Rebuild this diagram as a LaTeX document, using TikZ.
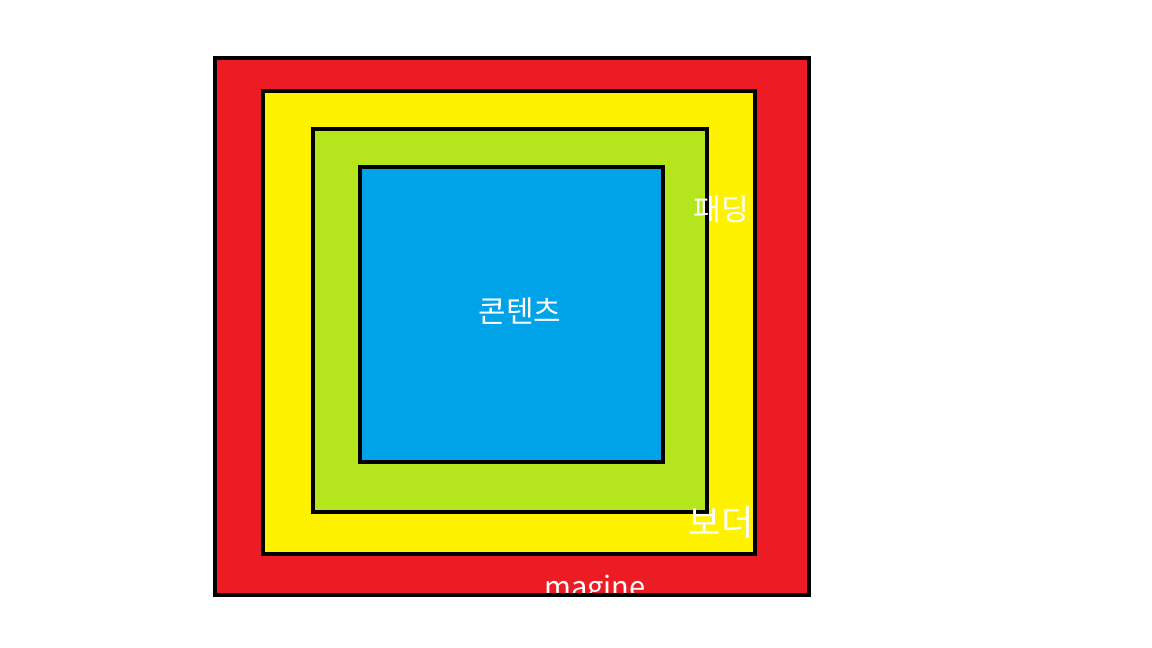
\documentclass[tikz,border=0pt]{standalone}
\usepackage{fontspec}
\setmainfont{Noto Sans CJK KR}
\definecolor{boxMargin}{RGB}{237,28,36}
\definecolor{boxBorder}{RGB}{255,242,0}
\definecolor{boxPadding}{RGB}{181,230,29}
\definecolor{boxContent}{RGB}{0,162,232}

\begin{document}
\begin{tikzpicture}[
  x=1pt, y=-1pt,
  every node/.style={align=center, text=white, inner sep=0pt},
  edge/.style={draw=black, line width=4pt},
  label/.style={font=\fontsize{30}{33}\selectfont},
  biglabel/.style={font=\fontsize{35}{38}\selectfont}
]
\useasboundingbox (0,0) rectangle (1152,648);

% - layers, outside in -
\fill[boxMargin] (213,56) rectangle (811,597);
\draw[edge, fill=boxBorder] (263,91) rectangle (755,554);
\draw[edge, fill=boxPadding] (313,129) rectangle (707,512);
\draw[edge, fill=boxContent] (360,167) rectangle (663,462);

% - labels -
\node[label] (content) at (520,311) {콘텐츠};
\node[label] (padding) at (721,209) {패딩};
\node[biglabel] (border) at (721,522) {보더};
\node[label, font=\fontsize{29}{32}\selectfont] (margin) at (595,590) {magine};

% outer edge over the margin label
\draw[edge] (215,58) rectangle (809,595);

\end{tikzpicture}
\end{document}
